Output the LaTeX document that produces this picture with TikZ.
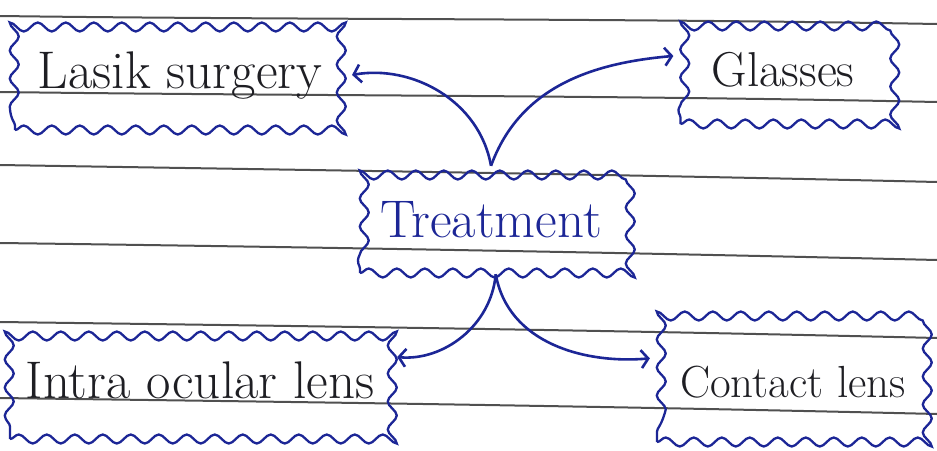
\documentclass[tikz,border=0pt]{standalone}
\usetikzlibrary{decorations.pathmorphing,arrows.meta}
\definecolor{ink}{RGB}{28,38,150}
\definecolor{pencil}{RGB}{30,30,35}
\definecolor{rulecol}{RGB}{80,80,80}
\tikzset{
  cloudbox/.style={draw=ink, line width=2.3pt, decorate,
    decoration={snake, amplitude=4.5pt, segment length=28pt},
    inner sep=0pt, text=pencil},
  link/.style={draw=ink, line width=2.6pt,
    -{Straight Barb[length=7pt,width=18pt]}, shorten >=6pt},
  paper/.style={draw=rulecol, line width=2pt}
}
\begin{document}
\begin{tikzpicture}[x=1pt,y=-1pt]
\useasboundingbox[fill=white] (0,0) rectangle (937,450);
% ruled paper
\draw[paper] (0,16) .. controls (300,20) and (600,18) .. (937,24);
\draw[paper] (0,92) .. controls (300,96) and (600,95) .. (937,102);
\draw[paper] (0,165) .. controls (300,170) and (600,174) .. (937,182);
\draw[paper] (0,243) .. controls (300,247) and (600,252) .. (937,260);
\draw[paper] (0,322) .. controls (300,326) and (600,330) .. (937,338);
\draw[paper] (0,398) .. controls (300,402) and (600,406) .. (937,414);
% nodes
\node[cloudbox, minimum width=330pt, minimum height=108pt,
      font=\fontsize{53}{58}\selectfont] (lasik) at (180,76) {Lasik surgery};
\node[cloudbox, minimum width=205pt, minimum height=108pt,
      font=\fontsize{49}{54}\selectfont] (glasses) at (783,70) {Glasses};
\node[cloudbox, minimum width=262pt, minimum height=106pt, text=ink,
      font=\fontsize{53}{58}\selectfont] (treat) at (491,220) {Treatment};
\node[cloudbox, minimum width=380pt, minimum height=118pt,
      font=\fontsize{53}{58}\selectfont] (intra) at (200,380) {Intra ocular lens};
\node[cloudbox, minimum width=272pt, minimum height=120pt,
      font=\fontsize{45}{50}\selectfont] (contact) at (793,382) {Contact lens};
% connectors
\draw[link] (treat.north) to[out=100, in=10] (lasik.east);
\draw[link] (treat.north) to[out=70, in=185] (glasses.172);
\draw[link] (treat.-85) to[out=-95, in=-5] (intra.7);
\draw[link] (treat.-85) to[out=-80, in=185] (contact.170);
\end{tikzpicture}
\end{document}
